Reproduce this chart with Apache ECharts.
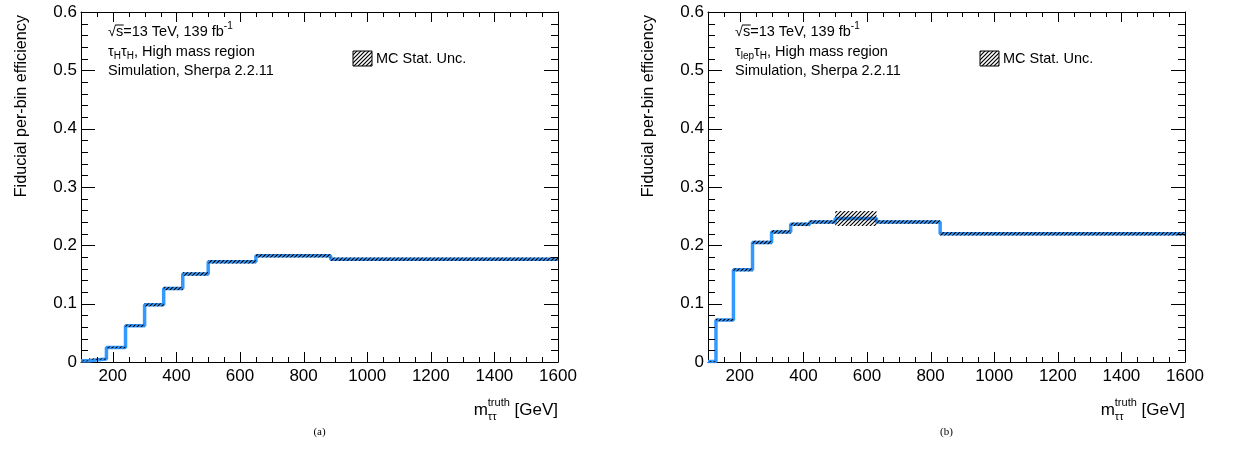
<!DOCTYPE html>
<html><head><meta charset="utf-8">
<script src="https://cdn.jsdelivr.net/npm/echarts@6/dist/echarts.min.js"></script>
<style>html,body{margin:0;padding:0;background:#fff}#c{width:1233px;height:475px;position:relative}
#pa{position:absolute;left:0;top:0;width:616px;height:475px}#pb{position:absolute;left:616px;top:0;width:617px;height:475px}</style>
</head><body><div id="c"><div id="pa"></div><div id="pb"></div></div>
<script>
// ---- data ----
const edgesA = [100, 125, 180, 240, 300, 360, 420, 500, 650, 885, 1600];
const effA   = [0.002, 0.005, 0.025, 0.062, 0.098, 0.126, 0.151, 0.172, 0.182, 0.176];
const errA   = [0.001, 0.0012, 0.0015, 0.002, 0.0025, 0.0028, 0.003, 0.003, 0.003, 0.003];
const edgesB = [100, 125, 180, 240, 300, 360, 420, 500, 630, 830, 1600];
const effB   = [0.001, 0.072, 0.158, 0.205, 0.223, 0.236, 0.240, 0.246, 0.240, 0.220];
const errB   = [0.0005, 0.002, 0.0025, 0.003, 0.003, 0.003, 0.003, 0.013, 0.003, 0.003];
const xMajorTicks = [200, 400, 600, 800, 1000, 1200, 1400, 1600];
const xMinorTicks = [150, 250, 300, 350, 450, 500, 550, 650, 700, 750, 850, 900, 950, 1050, 1100, 1150, 1250, 1300, 1350, 1450, 1500, 1550];
const yMajorTicks = [0.1, 0.2, 0.3, 0.4, 0.5];
const yMinorTicks = [0.02, 0.04, 0.06, 0.08, 0.12, 0.14, 0.16, 0.18, 0.22, 0.24, 0.26, 0.28, 0.32, 0.34, 0.36, 0.38, 0.42, 0.44, 0.46, 0.48, 0.52, 0.54, 0.56, 0.58];
const xMin = 100, xMax = 1600, xMajorStep = 200, xMinorStep = 50;
const yMin = 0, yMax = 0.6, yStep = 0.1;
const yTitle = 'Fiducial per-bin efficiency';
const legendText = 'MC Stat. Unc.';
const captions = ['(a)', '(b)'];

const FONT = '"Liberation Sans", Arial, Helvetica, sans-serif';
const BLUE = '#3399ff';
const TICK = {xMajor: 10, xMinor: 5, yMajor: 14, yMinor: 7};
const panels = [
  {el: 'pa', grid: {left: 81, top: 12, width: 477, height: 350}},
  {el: 'pb', grid: {left: 92, top: 12, width: 477, height: 350}}
];

const hatchCanvas = (function(){
  const s = 4, c = document.createElement('canvas'); c.width = s; c.height = s;
  const g = c.getContext('2d'); g.strokeStyle = '#000'; g.lineWidth = 1.2;
  g.beginPath();
  g.moveTo(0, s); g.lineTo(s, 0);
  g.moveTo(-1, 1); g.lineTo(1, -1);
  g.moveTo(s - 1, s + 1); g.lineTo(s + 1, s - 1);
  g.stroke();
  return c;
})();
const hatchFill = {image: hatchCanvas, repeat: 'repeat'};

function stepData(edges, vals){
  const d = vals.map((v, i) => [edges[i], v]);
  d.push([edges[edges.length - 1], vals[vals.length - 1]]);
  return d;
}
function bandData(edges, vals, errs){
  return vals.map((v, i) => [edges[i], edges[i + 1], v, errs[i]]);
}
function bandItem(params, api){
  const x0 = api.value(0), x1 = api.value(1), v = api.value(2), e = api.value(3);
  const p0 = api.coord([x0, v + e]), p1 = api.coord([x1, v - e]);
  return {type: 'rect', shape: {x: p0[0], y: p0[1], width: p1[0] - p0[0], height: Math.max(p1[1] - p0[1], 1)},
          style: {fill: hatchFill}};
}
// frame tick marks on all four sides, placed through the axes' own scales
function tickData(){
  const d = [];
  xMajorTicks.forEach(v => d.push([v, 0]));
  xMinorTicks.forEach(v => d.push([v, 1]));
  yMajorTicks.forEach(v => d.push([v, 2]));
  yMinorTicks.forEach(v => d.push([v, 3]));
  return d;
}
function tickItem(params, api){
  const item = tickData()[params.dataIndex];
  const v = item[0], k = item[1];
  const st = {stroke: '#000', lineWidth: 1};
  if (k < 2) {
    const L = k === 0 ? TICK.xMajor : TICK.xMinor;
    const b = api.coord([v, yMin]), t = api.coord([v, yMax]);
    const x = Math.round(b[0]) + 0.5;
    return {type: 'group', children: [
      {type: 'line', shape: {x1: x, y1: b[1], x2: x, y2: b[1] - L}, style: st},
      {type: 'line', shape: {x1: x, y1: t[1], x2: x, y2: t[1] + L}, style: st}]};
  }
  const L = k === 2 ? TICK.yMajor : TICK.yMinor;
  const l = api.coord([xMin, v]), r = api.coord([xMax, v]);
  const y = Math.round(l[1]) + 0.5;
  return {type: 'group', children: [
    {type: 'line', shape: {x1: l[0], y1: y, x2: l[0] + L, y2: y}, style: st},
    {type: 'line', shape: {x1: r[0], y1: y, x2: r[0] - L, y2: y}, style: st}]};
}

const mctx = document.createElement('canvas').getContext('2d');
function tw(t, s){ mctx.font = s + 'px ' + FONT; return mctx.measureText(t).width; }
function runs(x, y, items, alignRight){
  let total = 0; const widths = [];
  items.forEach((it, i) => {
    const w = tw(it.t, it.s);
    widths.push(w);
    if (it.overlay) { const prev = widths[i - 1]; if (w > prev) total += w - prev; }
    else total += w;
  });
  let cx = alignRight ? x - total : x, lastStart = cx, lastW = 0;
  const els = [];
  items.forEach((it, i) => {
    const w = widths[i];
    let sx;
    if (it.overlay) { sx = lastStart; if (w > lastW) { cx += w - lastW; lastW = w; } }
    else { sx = cx; lastStart = cx; lastW = w; cx += w; }
    els.push({type: 'text', x: sx, y: y + (it.dy || 0), silent: true,
      style: {text: it.t, fontSize: it.s, fontFamily: FONT, fill: '#000', align: 'left', verticalAlign: 'middle'}});
    if (it.over) {
      els.push({type: 'line', silent: true, shape: {x1: sx - 0.5, y1: y - 7, x2: sx + w + 0.5, y2: y - 7}, style: {stroke: '#000', lineWidth: 1}});
    }
  });
  return els;
}
const chanLabels = [
  [{t: 'τ', s: 14.5}, {t: 'H', s: 10, dy: 4}, {t: 'τ', s: 14.5}, {t: 'H', s: 10, dy: 4}, {t: ', High mass region', s: 14.5}],
  [{t: 'τ', s: 14.5}, {t: 'lep', s: 10, dy: 4}, {t: 'τ', s: 14.5}, {t: 'H', s: 10, dy: 4}, {t: ', High mass region', s: 14.5}]
];

function buildOption(gi, g, edges, vals, errs){
  const xAxes = [], yAxes = [];
  ['bottom', 'top'].forEach(pos => {
    xAxes.push({type: 'value', position: pos, min: xMin, max: xMax,
      minInterval: xMajorStep, maxInterval: xMajorStep, splitNumber: 7,
      axisLine: {show: true, onZero: false, lineStyle: {color: '#000', width: 1}},
      axisTick: {show: false},
      axisLabel: {show: pos === 'bottom', color: '#000', fontSize: 17, fontFamily: FONT, margin: 6,
        formatter: v => (v % xMajorStep === 0 ? String(v) : '{h|' + v + '}'),
        rich: {h: {color: 'rgba(0,0,0,0)', fontSize: 17, fontFamily: FONT}}},
      splitLine: {show: false}});
  });
  ['left', 'right'].forEach(pos => {
    yAxes.push({type: 'value', position: pos, min: yMin, max: yMax, interval: yStep,
      axisLine: {show: true, onZero: false, lineStyle: {color: '#000', width: 1}},
      axisTick: {show: false}, minorTick: {show: false},
      axisLabel: {show: pos === 'left', color: '#000', fontSize: 17, fontFamily: FONT, margin: 4},
      splitLine: {show: false}, minorSplitLine: {show: false}});
  });
  const series = [
    {type: 'line', xAxisIndex: 0, yAxisIndex: 0, step: 'end', data: stepData(edges, vals),
      showSymbol: false, symbol: 'none', lineStyle: {color: BLUE, width: 3.5}, silent: true, z: 3},
    {type: 'custom', xAxisIndex: 0, yAxisIndex: 0, data: bandData(edges, vals, errs),
      renderItem: bandItem, encode: {x: [0, 1], y: 2}, silent: true, z: 4},
    {type: 'custom', xAxisIndex: 0, yAxisIndex: 0, clip: false, data: tickData(),
      dimensions: ['v', 'k'], encode: {x: 0, y: 1}, renderItem: tickItem, silent: true, z: 5}
  ];
  const graphics = [];
  const tx = g.left + 27;
  runs(tx, 32, [{t: '√', s: 14.5}, {t: 's', s: 14.5, over: true}, {t: '=13 TeV, 139 fb', s: 14.5}, {t: '-1', s: 10, dy: -6}]).forEach(e => graphics.push(e));
  runs(tx, 52, chanLabels[gi]).forEach(e => graphics.push(e));
  runs(tx, 71, [{t: 'Simulation, Sherpa 2.2.11', s: 14.5}]).forEach(e => graphics.push(e));
  graphics.push({type: 'rect', silent: true, shape: {x: g.left + 272, y: 51, width: 19, height: 15}, style: {fill: hatchFill, stroke: '#000', lineWidth: 1}});
  graphics.push({type: 'text', silent: true, x: g.left + 295, y: 58.5, style: {text: legendText, fontSize: 14.5, fontFamily: FONT, fill: '#000', align: 'left', verticalAlign: 'middle'}});
  graphics.push({type: 'text', silent: true, x: g.left - 59, y: 15, rotation: Math.PI / 2,
    style: {text: yTitle, fontSize: 16.2, fontFamily: FONT, fill: '#000', align: 'right', verticalAlign: 'middle'}});
  runs(g.left + g.width, 410, [{t: 'm', s: 17}, {t: 'truth', s: 11, dy: -7}, {t: 'ττ', s: 11, dy: 7, overlay: true}, {t: ' [GeV]', s: 17}], true).forEach(e => graphics.push(e));
  graphics.push({type: 'text', silent: true, x: g.left + g.width / 2, y: 432,
    style: {text: captions[gi], fontSize: 11, fontFamily: '"Liberation Serif", "DejaVu Serif", serif', fill: '#000', align: 'center', verticalAlign: 'middle'}});
  return {animation: false, backgroundColor: '#fff', grid: g, xAxis: xAxes, yAxis: yAxes, series: series, graphic: graphics};
}

const sets = [[edgesA, effA, errA], [edgesB, effB, errB]];
panels.forEach((p, gi) => {
  const chart = echarts.init(document.getElementById(p.el), null, {renderer: 'canvas'});
  chart.setOption(buildOption(gi, p.grid, sets[gi][0], sets[gi][1], sets[gi][2]));
});
</script></body></html>
